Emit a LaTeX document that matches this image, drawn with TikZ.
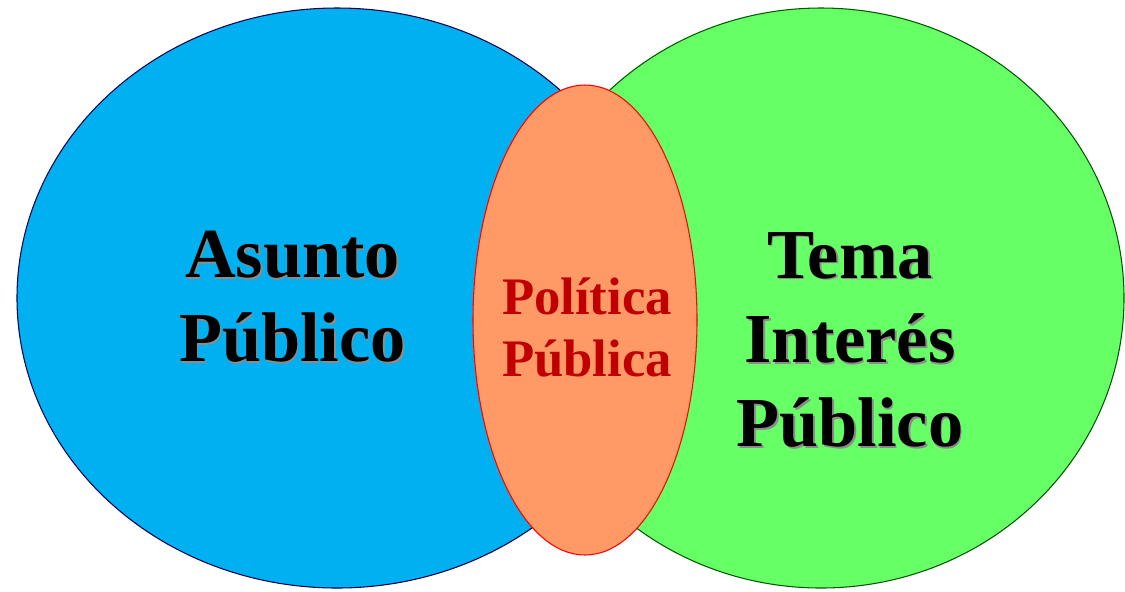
\documentclass[tikz,border=0pt]{standalone}
\usepackage{fontspec}
\setmainfont{Liberation Serif}
\definecolor{asuntoblue}{HTML}{00B0F0}
\definecolor{temagreen}{HTML}{66FF66}
\definecolor{politorange}{HTML}{FF9966}
\definecolor{politred}{HTML}{C00000}
\tikzset{
  bigtext/.style={align=center,font=\fontsize{40}{48}\selectfont\bfseries,inner sep=0pt},
  smalltext/.style={align=center,font=\fontsize{30}{35.5}\selectfont\bfseries,inner sep=0pt,text=politred},
  shadowtext/.style={bigtext,text=black!45},
}
\begin{document}
\begin{tikzpicture}
      \useasboundingbox (0,0) rectangle (22.5,-11.82);
      \filldraw[fill=asuntoblue,draw=blue!30!black,line width=.6pt](6.74,-5.96)ellipse[x radius=6.4,y radius=5.8];
      \filldraw[fill=temagreen,draw=green!35!black,line width=.6pt](16.42,-5.96)ellipse[x radius=6.06,y radius=5.8];
      \filldraw[fill=politorange,draw=red,line width=.6pt](11.7,-6.4)ellipse[x radius=2.24,y radius=4.7];

      \node[shadowtext] (asunto shadow) at (5.88,-5.97) {Asunto\\Público};
      \node[bigtext] (asunto) at (5.85,-5.94) {Asunto\\Público};

      \node[shadowtext] (tema shadow) at (17.03,-6.83) {Tema\\Interés\\Público};
      \node[bigtext] (tema) at (17.0,-6.8) {Tema\\Interés\\Público};

      \node[smalltext] (politica) at (11.74,-6.55) {Política\\Pública};
    \end{tikzpicture}
\end{document}
